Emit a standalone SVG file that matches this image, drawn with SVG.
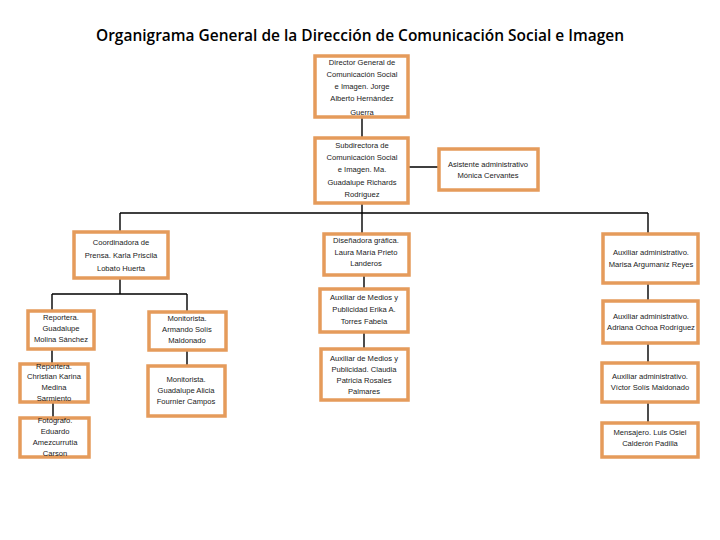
<svg xmlns="http://www.w3.org/2000/svg" width="720" height="540" viewBox="0 0 720 540">
<style>
.b{fill:#fff;stroke:#E59B5B;stroke-width:3.5}
.t{font-family:"Liberation Sans","Open Sans",sans-serif;font-size:7.6px;fill:#1a1a1a;text-anchor:middle;dominant-baseline:middle}
.c{stroke:#000;stroke-width:1.4;fill:none}
.title{font-family:"Open Sans","Liberation Sans",sans-serif;font-size:15.5px;font-weight:600;fill:#000;text-anchor:middle}
</style>
<rect width="720" height="540" fill="#fff"/>
<text class="title" x="360" y="41" textLength="528" lengthAdjust="spacingAndGlyphs">Organigrama General de la Dirección de Comunicación Social e Imagen</text>
<g id="connectors">
<path class="c" d="M362 117V137M409 167H438M362 203V233M120 213H648M120 213V231M648 213V233M120 278V294M52 294H187M52 294V310M187 294V311M52 349V363M53 402V417M187 350V365M364 275V288M364 332V348M648 283V300M648 343V362M648 402V422"/>
</g>
<g id="director"><rect class="b" x="315" y="56" width="93" height="61"/>
<text class="t" x="362"><tspan x="362" y="63">Director General de</tspan><tspan x="362" y="75">Comunicación Social</tspan><tspan x="362" y="87">e Imagen. Jorge</tspan><tspan x="362" y="99">Alberto Hernández</tspan><tspan x="362" y="113">Guerra</tspan></text></g>
<g id="subdirectora"><rect class="b" x="315" y="138" width="93" height="65"/>
<text class="t"><tspan x="362" y="146">Subdirectora de</tspan><tspan x="362" y="158">Comunicación Social</tspan><tspan x="362" y="170">e Imagen. Ma.</tspan><tspan x="362" y="183">Guadalupe Richards</tspan><tspan x="362" y="195">Rodríguez</tspan></text></g>
<g id="asistente"><rect class="b" x="439" y="149" width="99" height="41"/>
<text class="t"><tspan x="488" y="165">Asistente administrativo</tspan><tspan x="488" y="176">Mónica Cervantes</tspan></text></g>
<g id="coordinadora"><rect class="b" x="74" y="232" width="94" height="46"/>
<text class="t"><tspan x="121" y="243">Coordinadora de</tspan><tspan x="121" y="256">Prensa. Karla Priscila</tspan><tspan x="121" y="269">Lobato Huerta</tspan></text></g>
<g id="disenadora"><rect class="b" x="324" y="234" width="85" height="41"/>
<text class="t"><tspan x="366" y="241">Diseñadora gráfica.</tspan><tspan x="366" y="253">Laura María Prieto</tspan><tspan x="366" y="264">Landeros</tspan></text></g>
<g id="auxmedios1"><rect class="b" x="320" y="289" width="88" height="43"/>
<text class="t"><tspan x="364" y="298">Auxiliar de Medios y</tspan><tspan x="364" y="310">Publicidad Erika A.</tspan><tspan x="364" y="322">Torres Fabela</tspan></text></g>
<g id="auxmedios2"><rect class="b" x="321" y="349" width="87" height="51"/>
<text class="t"><tspan x="364" y="359">Auxiliar de Medios y</tspan><tspan x="364" y="370">Publicidad. Claudia</tspan><tspan x="364" y="381">Patricia Rosales</tspan><tspan x="364" y="392">Palmares</tspan></text></g>
<g id="auxadm1"><rect class="b" x="603" y="234" width="95" height="49"/>
<text class="t"><tspan x="651" y="253">Auxiliar administrativo.</tspan><tspan x="651" y="265">Marisa Argumaniz Reyes</tspan></text></g>
<g id="auxadm2"><rect class="b" x="603" y="301" width="95" height="42"/>
<text class="t"><tspan x="651" y="317">Auxiliar administrativo.</tspan><tspan x="651" y="328">Adriana Ochoa Rodríguez</tspan></text></g>
<g id="auxadm3"><rect class="b" x="602" y="363" width="96" height="39"/>
<text class="t"><tspan x="650" y="377">Auxiliar administrativo.</tspan><tspan x="650" y="388">Víctor Solís  Maldonado</tspan></text></g>
<g id="mensajero"><rect class="b" x="602" y="423" width="96" height="34"/>
<text class="t"><tspan x="650" y="433">Mensajero. Luis Osiel</tspan><tspan x="650" y="444">Calderón Padilla</tspan></text></g>
<g id="reportera1"><rect class="b" x="28" y="311" width="66" height="38"/>
<text class="t"><tspan x="61" y="318">Reportera.</tspan><tspan x="61" y="329">Guadalupe</tspan><tspan x="61" y="340">Molina Sánchez</tspan></text></g>
<g id="monitorista1"><rect class="b" x="149" y="312" width="77" height="38"/>
<text class="t"><tspan x="187" y="319">Monitorista.</tspan><tspan x="187" y="330">Armando Solís</tspan><tspan x="187" y="341">Maldonado</tspan></text></g>
<g id="reportera2"><rect class="b" x="20" y="364" width="68" height="38"/>
<text class="t"><tspan x="54" y="367">Reportera.</tspan><tspan x="54" y="377">Christian Karina</tspan><tspan x="54" y="388">Medina</tspan><tspan x="54" y="399">Sarmiento</tspan></text></g>
<g id="monitorista2"><rect class="b" x="148" y="366" width="77" height="50"/>
<text class="t"><tspan x="186" y="380">Monitorista.</tspan><tspan x="186" y="391">Guadalupe Alicia</tspan><tspan x="186" y="402">Fournier Campos</tspan></text></g>
<g id="fotografo"><rect class="b" x="20" y="418" width="69" height="39"/>
<text class="t"><tspan x="55" y="421">Fotógrafo.</tspan><tspan x="55" y="432">Eduardo</tspan><tspan x="55" y="443">Amezcurrutia</tspan><tspan x="55" y="454">Carson</tspan></text></g>
</svg>
